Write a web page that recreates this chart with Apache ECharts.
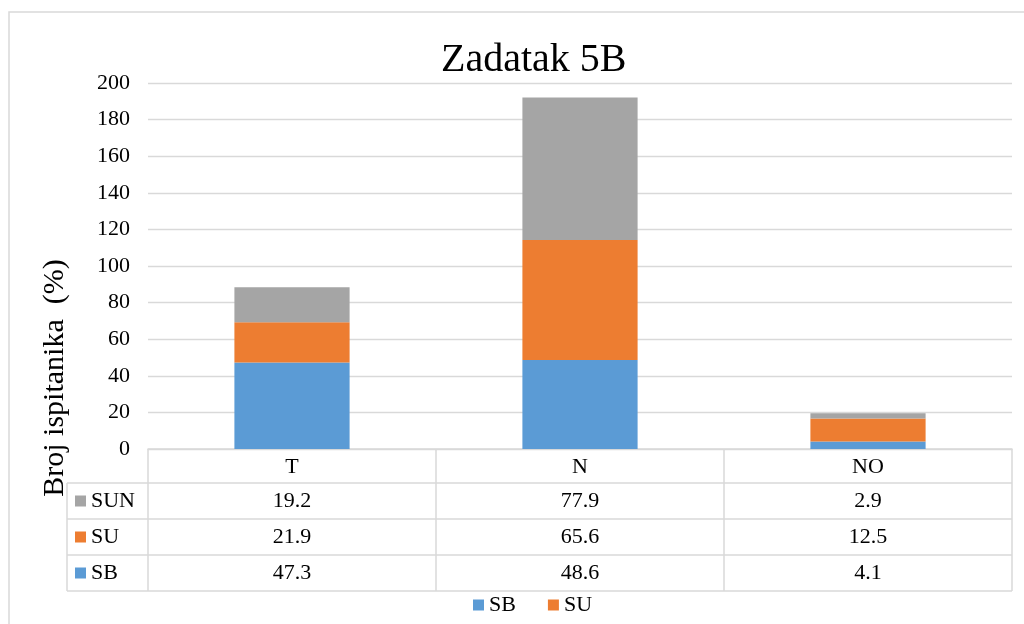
<!DOCTYPE html>
<html>
<head>
<meta charset="utf-8">
<script src="https://cdn.jsdelivr.net/npm/echarts@6/dist/echarts.min.js"></script>
<style>
  html, body { margin: 0; padding: 0; background: #fff; }
  #main { width: 1024px; height: 624px; }
</style>
</head>
<body>
<div id="main"></div>
<script>
// data
var categories = ['T', 'N', 'NO'];
var sbValues = [47.3, 48.6, 4.1];
var suValues = [21.9, 65.6, 12.5];
var sunValues = [19.2, 77.9, 2.9];
var seriesNames = ['SB', 'SU', 'SUN'];
var legendNames = ['SB', 'SU'];
var yMin = 0, yMax = 200, yStep = 20;

var colors = ['#5B9BD5', '#ED7D31', '#A5A5A5'];
var FONT = '"Liberation Serif", "Times New Roman", serif';
var gridLeft = 148, gridRight = 12, gridTop = 83, gridBottom = 175;
var headerH = 34, rowH = 36;

var myChart = echarts.init(document.getElementById('main'));
var option = {
  animation: false,
  color: colors,
  title: {
    text: 'Zadatak 5B',
    left: 436,
    top: 35,
    textStyle: { fontFamily: FONT, fontSize: 40, fontWeight: 'normal', color: '#000' }
  },
  legend: {
    data: legendNames,
    bottom: 3,
    left: 468,
    icon: 'rect',
    itemWidth: 11,
    itemHeight: 11,
    itemGap: 32,
    textStyle: { fontFamily: FONT, fontSize: 22, color: '#000' }
  },
  grid: { left: gridLeft, right: gridRight, top: gridTop, bottom: gridBottom, containLabel: false },
  xAxis: {
    type: 'category',
    data: categories,
    axisLine: { lineStyle: { color: '#D9D9D9', width: 1.5 } },
    axisTick: { show: true, length: headerH + rowH * 3, lineStyle: { color: '#D9D9D9', width: 1.5 } },
    axisLabel: { fontFamily: FONT, fontSize: 22, color: '#000', margin: 7 }
  },
  yAxis: {
    type: 'value',
    min: yMin,
    max: yMax,
    interval: yStep,
    axisLine: { show: false },
    axisTick: { show: false },
    splitLine: { lineStyle: { color: '#D9D9D9', width: 1.3 } },
    axisLabel: { fontFamily: FONT, fontSize: 22, color: '#000', margin: 18 }
  },
  series: [
    { name: seriesNames[0], type: 'bar', stack: 'a', data: sbValues, barCategoryGap: '60%' },
    { name: seriesNames[1], type: 'bar', stack: 'a', data: suValues, barCategoryGap: '60%' },
    { name: seriesNames[2], type: 'bar', stack: 'a', data: sunValues, barCategoryGap: '60%' }
  ]
};
myChart.setOption(option);

// data table under the axis
var y0 = myChart.convertToPixel({ yAxisIndex: 0 }, yMin);
var xRight = 1024 - gridRight;
var tableLeft = 67;
var rows = [
  { name: seriesNames[2], color: colors[2], values: sunValues },
  { name: seriesNames[1], color: colors[1], values: suValues },
  { name: seriesNames[0], color: colors[0], values: sbValues }
];
var graphics = [];
graphics.push({
  type: 'rect', shape: { x: 9, y: 12, width: 1040, height: 640 },
  style: { fill: null, stroke: '#D9D9D9', lineWidth: 1.5 }, silent: true
});
graphics.push({
  type: 'text', x: 55, y: 378, rotation: Math.PI / 2,
  style: { text: 'Broj ispitanika  (%)', font: '30px ' + FONT, fill: '#000', align: 'center', verticalAlign: 'middle' }
});
for (var r = 0; r <= rows.length; r++) {
  var ly = y0 + headerH + rowH * r;
  graphics.push({
    type: 'line', shape: { x1: tableLeft, y1: ly, x2: xRight, y2: ly },
    style: { stroke: '#D9D9D9', lineWidth: 1.5 }, silent: true
  });
}
graphics.push({
  type: 'line', shape: { x1: tableLeft, y1: y0 + headerH, x2: tableLeft, y2: y0 + headerH + rowH * rows.length },
  style: { stroke: '#D9D9D9', lineWidth: 1.5 }, silent: true
});
rows.forEach(function (row, i) {
  var cy = y0 + headerH + rowH * i + rowH / 2;
  graphics.push({
    type: 'rect', shape: { x: 75, y: cy - 5.5, width: 11, height: 11 },
    style: { fill: row.color }, silent: true
  });
  graphics.push({
    type: 'text', x: 91, y: cy,
    style: { text: row.name, font: '22px ' + FONT, fill: '#000', align: 'left', verticalAlign: 'middle' }
  });
  row.values.forEach(function (v, j) {
    var cx = myChart.convertToPixel({ xAxisIndex: 0 }, categories[j]);
    graphics.push({
      type: 'text', x: cx, y: cy,
      style: { text: v.toFixed(1), font: '22px ' + FONT, fill: '#000', align: 'center', verticalAlign: 'middle' }
    });
  });
});
myChart.setOption({ graphic: graphics });
</script>
</body>
</html>
